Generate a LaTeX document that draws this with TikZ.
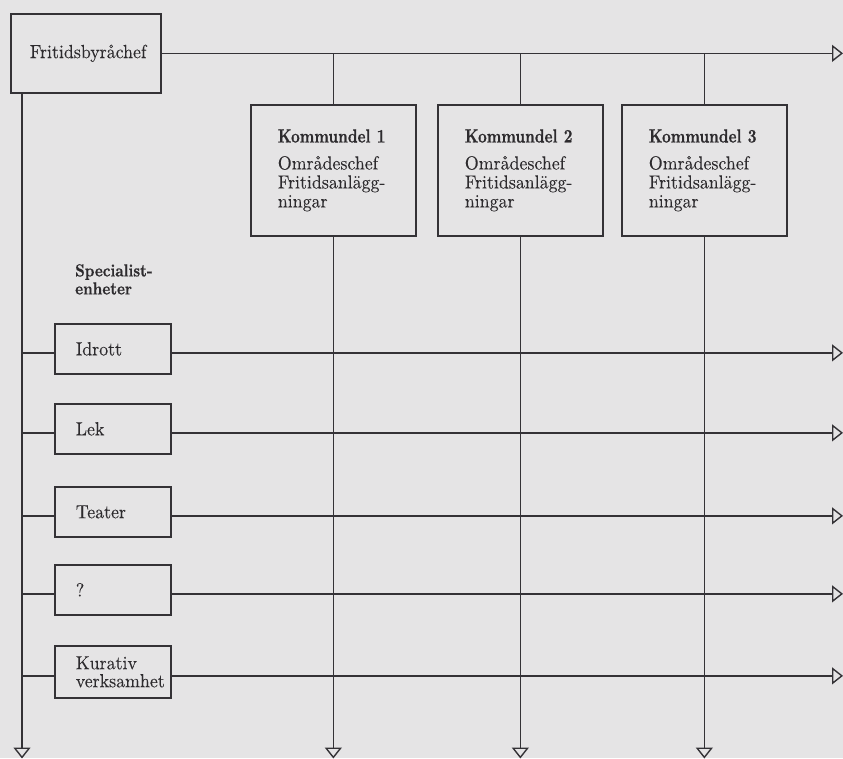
\documentclass[tikz,border=0pt]{standalone}
\usepackage{fontspec}
\setmainfont{lmroman10-regular.otf}[FakeStretch=0.94, FakeBold=0.1]
\newfontfamily\hdfont{lmroman10-bold.otf}[FakeStretch=0.8, FakeBold=0.6]
\newfontfamily\spfont{lmroman10-bold.otf}[FakeStretch=0.86, FakeBold=0.6]
\usetikzlibrary{arrows.meta}
\definecolor{bg}{RGB}{229,228,229}
\definecolor{ink}{RGB}{52,50,54}
\definecolor{txt}{RGB}{45,43,46}
\newcommand{\hd}[1]{{\hdfont\fontsize{19}{19}\selectfont #1}}
\tikzset{
  box/.style={draw=ink, line width=1.7pt, anchor=north west, inner ysep=0pt,
    align=left, text=txt, font=\fontsize{19}{19}\selectfont},
  kbox/.style={box, minimum height=131pt, inner xsep=27pt, text width=111pt},
  sbox/.style={box, minimum height=50pt, inner xsep=21pt, text width=74pt,
    font=\fontsize{19}{18}\selectfont},
  conn/.style={draw=ink, line width=1.4pt},
  arr/.style={conn, -{Triangle[open, length=11pt, width=17pt, line width=1.4pt]}},
  lbl/.style={anchor=north west, align=left, text=txt, inner sep=0pt,
    font=\spfont\fontsize{17.5}{18}\selectfont},
}
\begin{document}
\begin{tikzpicture}[x=1pt,y=-1pt]
\fill[bg] (0,0) rectangle (843,758);
\useasboundingbox (0,0) rectangle (843,758);

\node[box, minimum height=79pt, inner xsep=19pt, text width=112pt] (fb) at (10,13) {Fritidsbyråchef};

\node[kbox] (k1) at (250,104) {\hd{Kommundel 1}\\[8pt]\mbox{Områdeschef}\\\mbox{Fritidsanlägg-}\\\mbox{ningar}};
\node[kbox] (k2) at (437,104) {\hd{Kommundel 2}\\[8pt]\mbox{Områdeschef}\\\mbox{Fritidsanlägg-}\\\mbox{ningar}};
\node[kbox] (k3) at (621,104) {\hd{Kommundel 3}\\[8pt]\mbox{Områdeschef}\\\mbox{Fritidsanlägg-}\\\mbox{ningar}};

\node[lbl] (spec) at (75,264) {Specialist-\\enheter};

\node[sbox] (s1) at (54,323) {Idrott};
\node[sbox] (s2) at (54,403) {Lek};
\node[sbox] (s3) at (54,486) {Teater};
\node[sbox] (s4) at (54,564) {?};
\node[sbox, minimum height=52pt] (s5) at (54,645) {Kurativ\\\mbox{verksamhet}};

\coordinate (rx) at (843,0);
\coordinate (bot) at (0,758.5);
\coordinate (lx) at (22,0);

% top line
\draw[arr] (fb.east) -- (rx |- fb.east);
\foreach \k in {k1,k2,k3}{
  \draw[conn] (\k.north |- fb.east) -- (\k.north);
  \draw[arr] (\k.south) -- (\k.south |- bot);
}
% left vertical
\draw[arr] (lx |- fb.south) -- (lx |- bot);
% specialist units
\foreach \s in {s1,s2,s3,s4,s5}{
  \coordinate (\s w) at ([yshift=-4pt]\s.west);
  \coordinate (\s e) at ([yshift=-4pt]\s.east);
  \draw[conn] (lx |- \s w) -- (\s w);
  \draw[arr] (\s e) -- (rx |- \s e);
}
\end{tikzpicture}
\end{document}
